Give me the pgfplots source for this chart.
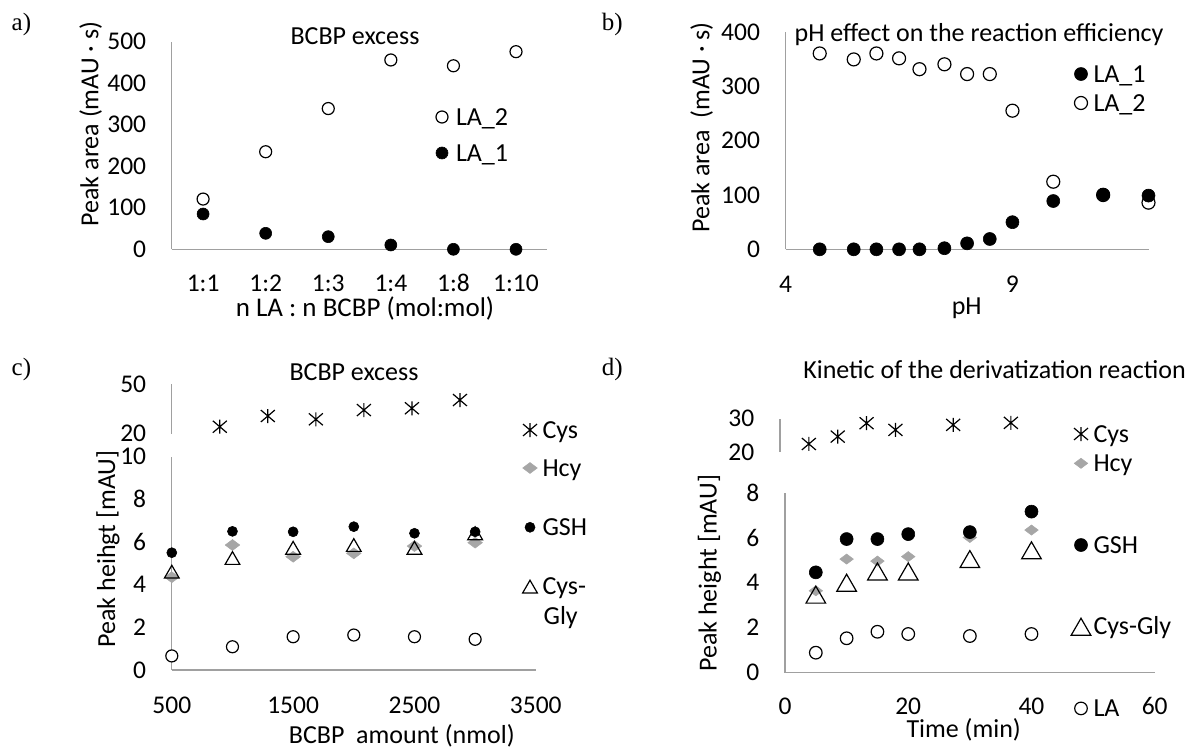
\documentclass[border=0pt]{standalone}
\usepackage{pgfplots}
\pgfplotsset{compat=1.18}
\usepackage{fontspec}
\setmainfont{Carlito}
\newfontfamily\serifpanel{Liberation Serif}
\newcommand{\fs}{\fontsize{25.5}{30}\selectfont}
\newcommand{\ft}{\fontsize{26}{30}\selectfont}
\newcommand{\ps}{\serifpanel\fontsize{25}{30}\selectfont}
\definecolor{axgray}{RGB}{160,160,160}
\definecolor{hcygray}{RGB}{166,166,166}
\pgfdeclareplotmark{xstar}{%
  \pgfpathmoveto{\pgfqpoint{0pt}{-\pgfplotmarksize}}%
  \pgfpathlineto{\pgfqpoint{0pt}{\pgfplotmarksize}}%
  \pgfpathmoveto{\pgfqpoint{-\pgfplotmarksize}{-0.85\pgfplotmarksize}}%
  \pgfpathlineto{\pgfqpoint{\pgfplotmarksize}{0.85\pgfplotmarksize}}%
  \pgfpathmoveto{\pgfqpoint{-\pgfplotmarksize}{0.85\pgfplotmarksize}}%
  \pgfpathlineto{\pgfqpoint{\pgfplotmarksize}{-0.85\pgfplotmarksize}}%
  \pgfusepathqstroke
}
\pgfplotsset{
  myax/.style={
    scale only axis, clip=false,
    axis x line=bottom, axis y line=left,
    axis line style={-, draw=axgray, line width=1.3pt},
    major tick length=0pt,
    tick label style={font=\fs, inner sep=0pt},
    x tick label style={anchor=center, yshift=-35.3pt},
    y tick label style={anchor=east, xshift=-25.5pt},
    /pgf/number format/assume math mode=true,
    /pgf/number format/1000 sep={},
    scaled ticks=false,
    legend cell align=left,
    legend image code/.code={%
      \path[draw=none, fill=none] (-6pt,-8.2pt) rectangle (6pt,8.2pt);
      \draw[overlay,mark repeat=2,mark phase=2,##1] plot coordinates {(-6pt,0pt) (0pt,0pt) (6pt,0pt)};},
    legend style={draw=none, fill=none, inner sep=0pt, outer sep=0pt, anchor=north west, font=\ft,
      nodes={inner sep=0pt, text height=16.4pt, text depth=0pt}},
  },
  openc/.style={only marks, mark=*, mark size=#1, mark options={draw=black, fill=white, line width=1.2pt}},
  fullc/.style={only marks, mark=*, mark size=#1, mark options={draw=black, fill=black, line width=0.6pt}},
  hcy/.style={only marks, mark=diamond*, mark size=#1, mark options={rotate=90, draw=hcygray, fill=hcygray, line width=0.5pt}},
  tri/.style={only marks, mark=triangle, mark size=#1, mark options={draw=black, line width=1.2pt, yshift=-0.25*#1}},
  cys/.style={only marks, mark=xstar, mark size=7pt, mark options={draw=black, line width=1.2pt}},
}
\begin{document}
\begin{tikzpicture}
\path[use as bounding box] (0pt,0pt) rectangle (1194pt,-749pt);

% ---------------- a) ----------------
\begin{axis}[myax, at={(171.8pt,-249.3pt)}, anchor=south west, width=375.5pt, height=207.6pt,
  xmin=0, xmax=6, ymin=0, ymax=500,
  x tick label style={yshift=1.3pt},
  xtick={0.5,1.5,2.5,3.5,4.5,5.5}, xticklabels={1:1,1:2,1:3,1:4,1:8,1:10},
  ytick={0,100,200,300,400,500},
  legend style={at={(0.7036,0.6768)}, row sep=19.6pt, column sep=8pt}]
\addplot[openc=6pt, forget plot] coordinates {(0.5,121) (1.5,235) (2.5,339) (3.5,456) (4.5,442) (5.5,476)};
\addplot[fullc=6pt, forget plot] coordinates {(0.5,85) (1.5,38.5) (2.5,30.4) (3.5,10.4) (4.5,0) (5.5,0)};
\addlegendimage{openc=6pt}\addlegendentry{LA\_2}
\addlegendimage{fullc=6pt}\addlegendentry{LA\_1}
\end{axis}

% ---------------- b) ----------------
\begin{axis}[myax, at={(785.7pt,-249.3pt)}, anchor=south west, width=362.8pt, height=217pt,
  xmin=4, xmax=12, ymin=0, ymax=400, xtick={4,9}, ytick={0,100,200,300,400},
  legend style={at={(0.7974,0.8456)}, row sep=12.6pt, column sep=6.5pt}]
\addplot[openc=6.5pt, forget plot] coordinates {(4.75,361) (5.5,350) (6,361) (6.5,352) (6.95,332) (7.5,341) (8,323) (8.5,323) (9,255.5) (9.9,124.6) (11,100) (12,86)};
\addplot[fullc=6.5pt, forget plot] coordinates {(4.75,0) (5.5,0) (6,0) (6.5,0) (6.95,0) (7.5,2) (8,11) (8.5,19) (9,50) (9.9,89) (11,101) (12,99)};
\addlegendimage{fullc=6.5pt}\addlegendentry{LA\_1}
\addlegendimage{openc=6.5pt}\addlegendentry{LA\_2}
\end{axis}

% ---------------- c) lower ----------------
\begin{axis}[myax, at={(171.8pt,-670pt)}, anchor=south west, width=364pt, height=213.3pt,
  xmin=500, xmax=3500, ymin=0, ymax=10, xtick={500,1500,2500,3500}, ytick={0,2,4,6,8,10},
  legend style={at={(0.9676,0.9855)}, row sep=42.9pt, column sep=6.5pt}]
\addplot[openc=6pt, forget plot] coordinates {(500,0.66) (1000,1.09) (1500,1.56) (2000,1.64) (2500,1.56) (3000,1.44)};
\addplot[hcy=7.3pt, forget plot] coordinates {(500,4.35) (1000,5.86) (1500,5.31) (2000,5.47) (2500,5.81) (3000,5.97)};
\addplot[tri=8.5pt, forget plot] coordinates {(500,4.61) (1000,5.25) (1500,5.73) (2000,5.86) (2500,5.73) (3000,6.41)};
\addplot[fullc=5pt, forget plot] coordinates {(500,5.5) (1000,6.5) (1500,6.48) (2000,6.72) (2500,6.41) (3000,6.48)};
\addlegendimage{hcy=7.3pt}\addlegendentry{Hcy}
\addlegendimage{fullc=5pt}\addlegendentry{GSH}
\addlegendimage{tri=8.5pt}\addlegendentry{Cys-}
\end{axis}

% ---------------- c) upper ----------------
\begin{axis}[myax, at={(171.8pt,-433.5pt)}, anchor=south west, width=364pt, height=49.5pt,
  axis x line=none, xmin=0, xmax=3790, ymin=20, ymax=50, ytick={20,50},
  legend style={at={(0.9676,0.2364)}, column sep=6.5pt}]
\addplot[cys, forget plot] coordinates {(500,24.1) (1000,30.6) (1500,28.6) (2000,34.2) (2500,35.3) (3000,40.3)};
\addlegendimage{cys}\addlegendentry{Cys}
\end{axis}

% ---------------- d) lower ----------------
\begin{axis}[myax, at={(785pt,-672.7pt)}, anchor=south west, width=369.7pt, height=180pt,
  xmin=0, xmax=60, ymin=0, ymax=8, xtick={0,20,40,60}, ytick={0,2,4,6,8},
  x tick label style={yshift=1.6pt},
  legend style={at={(0.7844,1.2089)}, row sep=65.3pt, column sep=6.5pt}]
\addplot[openc=6.3pt, forget plot] coordinates {(5,0.89) (10,1.53) (15,1.82) (20,1.72) (30,1.63) (40,1.72)};
\addplot[hcy=6.8pt, forget plot] coordinates {(5,3.64) (10,5.05) (15,4.96) (20,5.16) (30,6.01) (40,6.34)};
\addplot[tri=11.3pt, forget plot] coordinates {(5,3.47) (10,4.0) (15,4.5) (20,4.5) (30,5.05) (40,5.44)};
\addplot[fullc=6.5pt, forget plot] coordinates {(5,4.46) (10,5.94) (15,5.94) (20,6.16) (30,6.25) (40,7.16)};
\addlegendimage{hcy=6.8pt}\addlegendentry{Hcy}
\addlegendimage{fullc=6.5pt}\addlegendentry{GSH}
\addlegendimage{tri=11.3pt}\addlegendentry{Cys-Gly}
\addlegendimage{openc=6.3pt}\addlegendentry{LA}
\end{axis}

% ---------------- d) upper ----------------
\begin{axis}[myax, at={(780pt,-452pt)}, anchor=south west, width=369.4pt, height=33.5pt,
  axis x line=none, xmin=0, xmax=64, ymin=20, ymax=30, ytick={20,30},
  legend style={at={(0.7986,0.782)}, column sep=6.5pt}]
\addplot[cys, forget plot] coordinates {(5,22.4) (10,24.6) (15,28.6) (20,26.6) (30,28.1) (40,28.7)};
\addlegendimage{cys}\addlegendentry{Cys}
\end{axis}

% ---------------- texts ----------------
\tikzset{tx/.style={font=\ft, inner sep=0pt}}
\node[tx, anchor=base] at (355pt,-45pt) {BCBP excess};
\node[tx, anchor=base] at (979pt,-41.7pt) {pH effect on the reaction efficiency};
\node[tx, anchor=base] at (354pt,-380pt) {BCBP excess};
\node[tx, anchor=base] at (994.5pt,-378.3pt) {Kinetic of the derivatization reaction};
\node[tx, anchor=base, font=\fontsize{27}{30}\selectfont] at (365pt,-316.5pt) {n LA : n BCBP (mol:mol)};
\node[tx, anchor=base] at (966.7pt,-314pt) {pH};
\node[tx, anchor=base] at (401.8pt,-743.3pt) {BCBP\ \ amount (nmol)};
\node[tx, anchor=base] at (963.7pt,-737.5pt) {Time (min)};
\node[tx, rotate=90] at (90.7pt,-124pt) {Peak area (mAU · s)};
\node[tx, rotate=90] at (701.7pt,-127.5pt) {Peak area\ \ (mAU · s)};
\node[tx, rotate=90] at (108pt,-549pt) {Peak heihgt [mAU]};
\node[tx, rotate=90] at (709.4pt,-573.3pt) {Peak height [mAU]};
\node[tx, anchor=base west] at (543.4pt,-624.9pt) {Gly};
\node[font=\ps, anchor=base west, inner sep=0pt] at (11.5pt,-30.5pt) {a)};
\node[font=\ps, anchor=base west, inner sep=0pt] at (601.6pt,-30.5pt) {b)};
\node[font=\ps, anchor=base west, inner sep=0pt] at (11.5pt,-375.5pt) {c)};
\node[font=\ps, anchor=base west, inner sep=0pt] at (601.6pt,-375.5pt) {d)};
\end{tikzpicture}
\end{document}
